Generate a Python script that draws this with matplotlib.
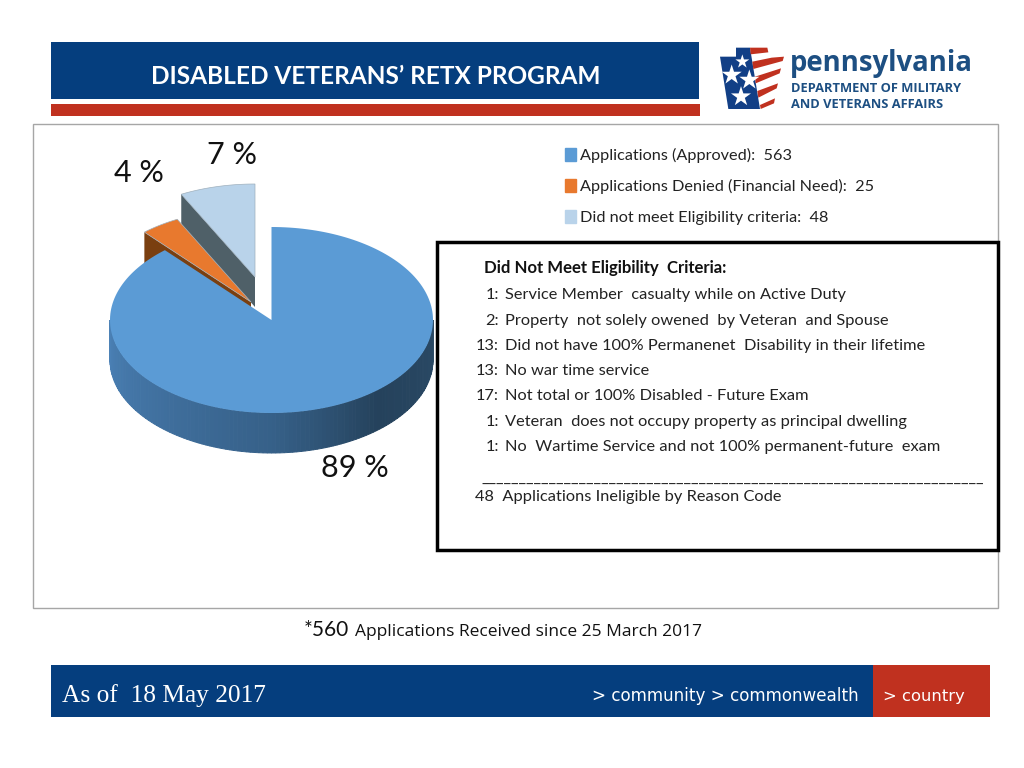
import numpy as np
import matplotlib.pyplot as plt
from matplotlib.patches import Rectangle, Patch

# ---- SETTINGS ----
LABELS = [
    "Applications (Approved):  563",
    "Applications Denied (Financial Need):  25",
    "Did not meet Eligibility criteria:  48",
]
COUNTS = [563, 25, 48]
PERCENT_TEXT = ["89 %", "4 %", "7 %"]
TOP_COLORS = ["#5b9bd5", "#e8792e", "#b9d3ea"]
SIDE_COLORS = ["#3b6a96", "#7a3f10", "#4f6068"]

REASONS = [
    ("1:", "Service Member  casualty while on Active Duty", 295),
    ("2:", "Property  not solely owened  by Veteran  and Spouse", 321),
    ("13:", "Did not have 100% Permanenet  Disability in their lifetime", 346),
    ("13:", "No war time service", 371),
    ("17:", "Not total or 100% Disabled - Future Exam", 396),
    ("1:", "Veteran  does not occupy property as principal dwelling", 422),
    ("1:", "No  Wartime Service and not 100% permanent-future  exam", 447),
]

NAVY = "#053e7e"
RED = "#c0311f"
FONT = "Lato"
# -------------------


def ellipse_points(cx, cy, start, stop, rx=161.5, ry=93.0):
    """
    Points on the tilted pie rim. Angles run clockwise from straight up,
    in degrees, like a normal pie chart.
    """
    theta = np.radians(np.linspace(start, stop, 200))
    return cx + rx * np.sin(theta), cy - ry * np.cos(theta)


def draw_wedge(cx, cy, start, stop, top_color, side_color, depth):
    """
    One exploded slice: the cut face on the left edge first, then the top.
    """
    xs, ys = ellipse_points(cx, cy, start, stop)
    plt.fill(
        [xs[0], xs[0], cx, cx],
        [ys[0], ys[0] + depth, cy + depth, cy],
        color=side_color,
        linewidth=0,
    )
    plt.fill(
        np.r_[cx, xs],
        np.r_[cy, ys],
        facecolor=top_color,
        edgecolor="#9fb0bd",
        linewidth=0.5,
    )


def draw_pie():
    """
    Fake 3D pie: angles come from COUNTS, the rim is shaded in thin strips.
    """
    fractions = np.array(COUNTS) / sum(COUNTS)
    stops = np.cumsum(fractions) * 360  # clockwise from 12 o'clock

    # Exploded slices go first, the big one covers their lower parts
    draw_wedge(255, 277, stops[1], stops[2], TOP_COLORS[2], SIDE_COLORS[2], 30)
    draw_wedge(251, 302, stops[0], stops[1], TOP_COLORS[1], SIDE_COLORS[1], 40)

    cx, cy = 271.5, 320
    depth = 40
    edges = np.linspace(90, 270, 121)
    for a, b in zip(edges[:-1], edges[1:]):
        xs, ys = ellipse_points(cx, cy, a, b)
        # lighter on the left, darkest right of the middle
        mix = (270 - b) / 180
        r = np.interp(mix, [0, 0.5, 0.72, 1], [0x4a, 0x36, 0x25, 0x2a]) / 255
        g = np.interp(mix, [0, 0.5, 0.72, 1], [0x80, 0x60, 0x42, 0x4a]) / 255
        bl = np.interp(mix, [0, 0.5, 0.72, 1], [0xb5, 0x88, 0x5c, 0x66]) / 255
        plt.fill(
            np.r_[xs, xs[::-1]],
            np.r_[ys, ys[::-1] + depth],
            facecolor=(r, g, bl),
            edgecolor=(r, g, bl),
            linewidth=0.7,  # hides the seams between strips
        )

    xs, ys = ellipse_points(cx, cy, 0, stops[0])
    plt.fill(np.r_[cx, xs], np.r_[cy, ys], color=TOP_COLORS[0], linewidth=0)

    plt.text(355, 468, PERCENT_TEXT[0], ha="center", va="center", fontsize=22, family=FONT, color="#111111")
    plt.text(139, 173, PERCENT_TEXT[1], ha="center", va="center", fontsize=22, family=FONT, color="#111111")
    plt.text(232, 155, PERCENT_TEXT[2], ha="center", va="center", fontsize=22, family=FONT, color="#111111")


def draw_logo():
    """
    Rough keystone flag plus the department name.
    """
    def zx(values):
        return [710 + v / 3 for v in values]

    def zy(values):
        return [35 + v / 3 for v in values]

    plt.fill(zx([30, 78, 78, 120, 150, 55]), zy([65, 65, 38, 38, 222, 222]), color="#123f86", linewidth=0)
    stripes = [
        ([120, 172, 175, 122], [38, 38, 52, 58]),
        ([127, 185, 222, 218, 130], [80, 68, 65, 78, 102]),
        ([135, 213, 209, 137], [125, 100, 115, 145]),
        ([142, 204, 200, 145], [168, 145, 160, 188]),
        ([150, 195, 192, 152], [210, 190, 205, 222]),
    ]
    for sx, sy in stripes:
        plt.fill(zx(sx), zy(sy), color=RED, linewidth=0)
    plt.scatter(zx([97, 65, 118, 93]), zy([80, 120, 135, 185]), s=[110, 230, 230, 230], marker="*", color="white", linewidths=0)

    plt.text(790, 63, "pennsylvania", ha="left", va="center", fontsize=19.8, family="Open Sans", weight="bold", color="#1d4f82")
    plt.text(791, 88, "DEPARTMENT OF MILITARY", ha="left", va="center", fontsize=9.3, family="Open Sans", weight="bold", color="#1d4f82")
    plt.text(791, 105, "AND VETERANS AFFAIRS", ha="left", va="center", fontsize=9.3, family="Open Sans", weight="bold", color="#1d4f82")


def draw_reason_box():
    """
    Black outlined box with the reason codes.
    """
    ax = plt.gca()
    ax.add_patch(Rectangle((437, 242), 561, 308, facecolor="white", edgecolor="black", linewidth=2.5))

    plt.text(484, 268, "Did Not Meet Eligibility  Criteria:", ha="left", va="center", fontsize=12.1, family=FONT, weight="bold", color="#111111")
    for count, reason, y in REASONS:
        plt.text(499, y, count, ha="right", va="center", fontsize=11.8, family=FONT, color="#222222")
        plt.text(505, y, reason, ha="left", va="center", fontsize=11.8, family=FONT, color="#222222")

    plt.text(481, 479, "_" * 67, ha="left", va="center", fontsize=11.8, family=FONT, color="#222222")
    plt.text(475, 497, "48  Applications Ineligible by Reason Code", ha="left", va="center", fontsize=11.8, family=FONT, color="#222222")


def plot_slide():
    """
    The whole slide, laid out in pixel coordinates of a 1024x768 picture.
    """
    plt.figure(figsize=(10.24, 7.68), dpi=100)
    plt.axes([0, 0, 1, 1])
    plt.xlim(0, 1024)
    plt.ylim(768, 0)
    plt.axis("off")
    ax = plt.gca()

    # Header bars
    ax.add_patch(Rectangle((51, 42), 648, 57, color=NAVY, linewidth=0))
    ax.add_patch(Rectangle((51, 104), 649, 12, color=RED, linewidth=0))
    plt.text(376, 76, "DISABLED VETERANS\u2019 RETX PROGRAM", ha="center", va="center", fontsize=17.6, family=FONT, weight="bold", color="white")

    draw_logo()

    # Chart frame
    ax.add_patch(Rectangle((32.5, 124), 965.5, 484, facecolor="white", edgecolor="#a6a6a6", linewidth=1))

    draw_pie()

    handles = [Patch(color=c) for c in TOP_COLORS]
    plt.legend(
        handles,
        LABELS,
        loc="upper left",
        bbox_to_anchor=(0.537, 0.826),
        frameon=False,
        prop={"family": FONT, "size": 11.7},
        handlelength=0.68,
        handleheight=0.85,
        handletextpad=0.3,
        labelspacing=0.98,
        labelcolor="#222222",
    )

    draw_reason_box()

    # Footnote
    plt.text(304, 630, "*560", ha="left", va="center", fontsize=15, family=FONT, color="#111111")
    plt.text(355, 632, "Applications Received since 25 March 2017", ha="left", va="center", fontsize=12.5, family="Open Sans", color="#111111")

    # Footer bars
    ax.add_patch(Rectangle((51, 665), 822, 52, color=NAVY, linewidth=0))
    ax.add_patch(Rectangle((873, 665), 117, 52, color=RED, linewidth=0))
    plt.text(62, 696, "As of  18 May 2017", ha="left", va="center", fontsize=18.3, family="Liberation Serif", color="white")
    plt.text(859, 696, "> community > commonwealth", ha="right", va="center", fontsize=12.1, family="DejaVu Sans", color="white")
    plt.text(883, 696, "> country", ha="left", va="center", fontsize=11.8, family="DejaVu Sans", color="white")

    plt.savefig("out.png", dpi=100)


if __name__ == "__main__":
    plot_slide()
